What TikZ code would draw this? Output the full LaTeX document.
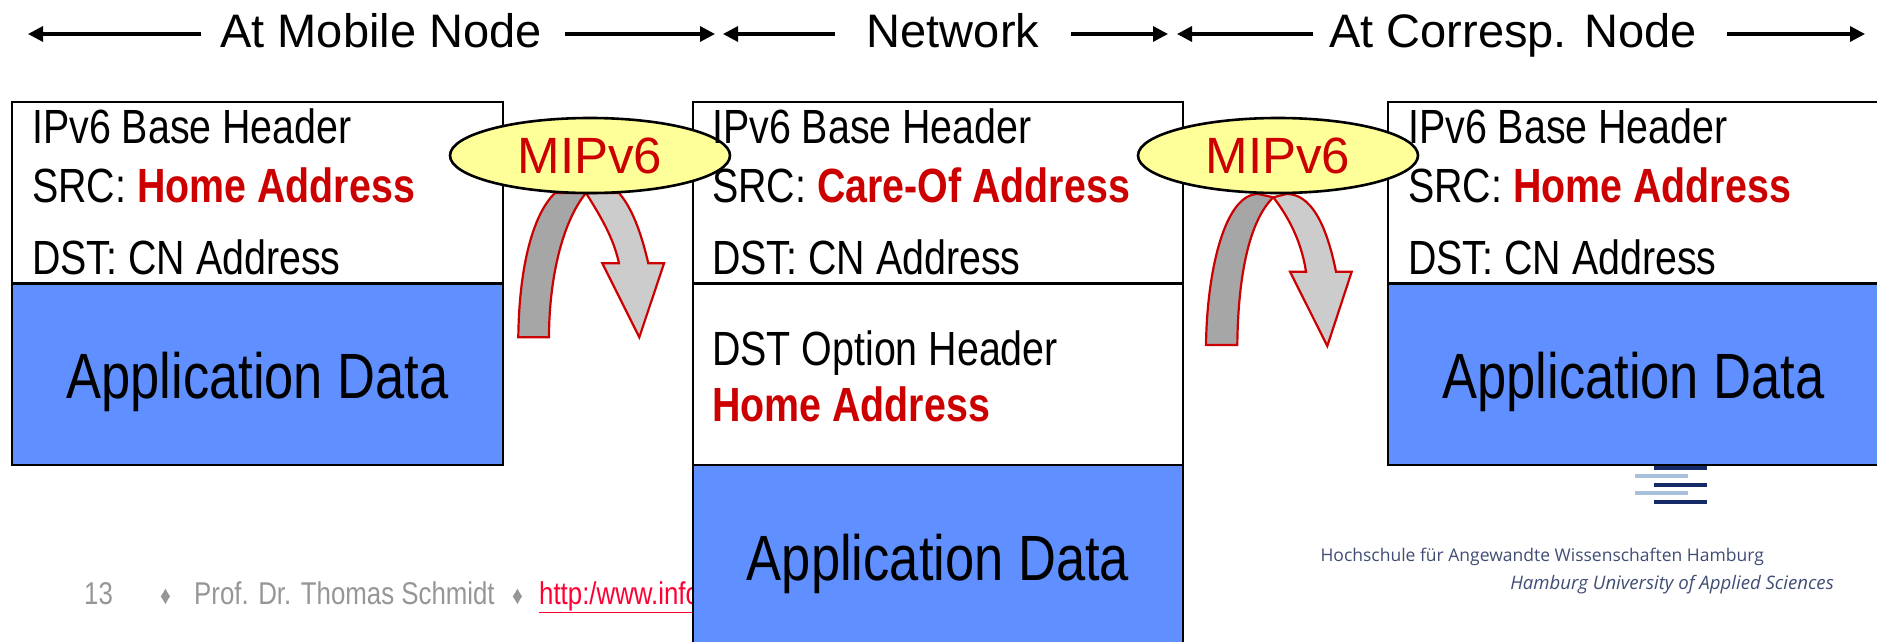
\documentclass[tikz,border=0pt]{standalone}
\usepackage{fontspec}
\setmainfont{Liberation Sans}
\newfontfamily\narrowfont[FakeStretch=0.82]{Liberation Sans}
\newfontfamily\logofont{Open Sans}
\usepackage{tikz}
\usetikzlibrary{positioning}
\usetikzlibrary{arrows.meta}
\usetikzlibrary{shapes.geometric}
\definecolor{appblue}{HTML}{6090FF}
\definecolor{mipyellow}{HTML}{FFFF99}
\definecolor{mipred}{HTML}{CC0000}
\definecolor{darkbend}{HTML}{A6A6A6}
\definecolor{lightbend}{HTML}{CCCCCC}
\definecolor{footgrey}{HTML}{969696}
\definecolor{footred}{HTML}{FF0033}
\definecolor{logonavy}{HTML}{152A66}
\definecolor{logolight}{HTML}{A9C0DC}
\definecolor{logotext}{HTML}{3F4C74}
\tikzstyle{block} = [draw, line width=2.8pt, rectangle, inner sep=0pt, outer sep=0pt, minimum height=181.5pt]
\tikzstyle{header} = [block, fill=white]
\tikzstyle{appdata} = [block, fill=appblue, text depth=0pt, text height=49pt, font=\fontsize{64}{64}\narrowfont]
\tikzstyle{headtext} = [anchor=base west, inner sep=0pt, font=\fontsize{48}{48}\narrowfont]
\tikzstyle{scopetext} = [anchor=base, inner sep=0pt, font=\fontsize{47}{47}\selectfont]
\tikzstyle{footer} = [anchor=base west, inner sep=0pt, text=footgrey, font=\fontsize{31.5}{32}\narrowfont]
\tikzstyle{mip} = [draw, ellipse, line width=2.6pt, fill=mipyellow, text=mipred, inner sep=0pt, minimum width=280pt, minimum height=75pt, font=\fontsize{51}{51}\selectfont]
\tikzstyle{bentarrow} = [draw=mipred, line width=2.2pt, line join=miter]
\tikzstyle{scopeline} = [line width=3.2pt, >={Triangle[length=15pt,width=15pt]}]
\newcommand{\addr}[1]{\textcolor{mipred}{\bfseries #1}}
\begin{document}
\begin{tikzpicture}[x=1pt,y=-1pt]
    \useasboundingbox (0,0) rectangle (1877,642);
    \clip (0,0) rectangle (1877,642);
    % footer and logo lie under the boxes
    \node [footer] (page) at (84,604) {13};
    \node [footer, font=\fontsize{26}{26}\narrowfont] (dota) at (160,604) {♦};
    \node [footer] (prof) at (194,604) {Prof. Dr. Thomas Schmidt};
    \node [footer, font=\fontsize{26}{26}\narrowfont] (dotb) at (512,604) {♦};
    \node [footer,text=footred] (link) at (539,604) {\underline{http:/www.info}};
    \foreach \y in {468,485,502} \fill [logonavy] (1654,\y-2.2) rectangle (1707,\y+2.2);
    \foreach \y in {476,493} \fill [logolight] (1635,\y-2.2) rectangle (1688,\y+2.2);
    \node [anchor=base east, inner sep=0pt, text=logotext, font=\fontsize{17.5}{18}\logofont] (hochschule) at (1764,561) {Hochschule für Angewandte Wissenschaften Hamburg};
    \node [anchor=base east, inner sep=0pt, text=logotext, font=\fontsize{18.6}{19}\logofont\itshape] (hamburg) at (1834,589) {Hamburg University of Applied Sciences};

    % the three packets
    \node [header, minimum width=491pt, anchor=north west] (hdra) at (12,102) {};
    \node [appdata, minimum width=491pt, below=0pt of hdra] (appa) {Application Data};
    \node [header, minimum width=490pt, anchor=north west] (hdrb) at (693,102) {};
    \node [header, minimum width=490pt, below=0pt of hdrb] (optb) {};
    \node [appdata, minimum width=490pt, below=0pt of optb] (appb) {Application Data};
    \node [header, minimum width=491pt, anchor=north west] (hdrc) at (1388,102) {};
    \node [appdata, minimum width=491pt, below=0pt of hdrc] (appc) {Application Data};

    % bent arrows
    \draw [bentarrow, fill=darkbend] (518.3,337.3) .. controls (519,270) and (532,215) .. (555,193) -- (586,193)
        .. controls (562,222) and (549,280) .. (549,337.3) -- cycle;
    \draw [bentarrow, fill=lightbend] (586,193) .. controls (603,220) and (614,240) .. (619,263.3) -- (602.3,263.3)
        -- (639.3,337.3) -- (664,263.3) -- (648.3,263.3) .. controls (641,232) and (632,208) .. (619,193) -- cycle;
    \draw [bentarrow, fill=darkbend] (1206,345) .. controls (1207,270) and (1225,194) .. (1258,194) -- (1273.3,197.3)
        .. controls (1248,222) and (1238,280) .. (1237.3,345) -- cycle;
    \draw [bentarrow, fill=lightbend] (1273.3,197.3) .. controls (1291,220) and (1302,245) .. (1306,271.7) -- (1290,271.7)
        -- (1327.3,346) -- (1351.7,271.7) -- (1336,271.7) .. controls (1326,222) and (1310,194) .. (1286.7,194) -- cycle;

    \node [mip] (mipa) at (590,155.5) {MIPv6};
    \node [mip] (mipb) at (1278,155.5) {MIPv6};

    % packet texts
    \foreach \nm/\x in {a/32,b/712,c/1408} {
        \node [headtext] (base\nm) at (\x,143) {IPv6 Base Header};
        \node [headtext] (dst\nm) at (\x,274) {DST: CN Address};
    }
    \node [headtext] (srca) at (32,202) {SRC: \addr{Home Address}};
    \node [headtext] (srcb) at (712,202) {SRC: \addr{Care-Of Address}};
    \node [headtext] (srcc) at (1408,202) {SRC: \addr{Home Address}};
    \node [headtext] (optname) at (712,365) {DST Option Header};
    \node [headtext] (opthome) at (712,421) {\addr{Home Address}};

    % scope arrows
    \node [scopetext] (scopea) at (381,48) {At Mobile Node};
    \node [scopetext] (scopeb) at (953,48) {Network};
    \node [scopetext] (scopec) at (1513,48) {At Corresp. Node};
    \coordinate (a1) at (28,34);
    \coordinate (a2) at (201,34);
    \coordinate (a3) at (565,34);
    \coordinate (a4) at (715,34);
    \coordinate (b1) at (723,34);
    \coordinate (b2) at (835,34);
    \coordinate (b3) at (1071,34);
    \coordinate (b4) at (1168,34);
    \coordinate (c1) at (1177,34);
    \coordinate (c2) at (1313,34);
    \coordinate (c3) at (1727,34);
    \coordinate (c4) at (1865,34);
    \foreach \nm in {a,b,c} {
        \draw [scopeline, <-] (\nm1) -- (\nm2);
        \draw [scopeline, ->] (\nm3) -- (\nm4);
    }
\end{tikzpicture}
\end{document}
